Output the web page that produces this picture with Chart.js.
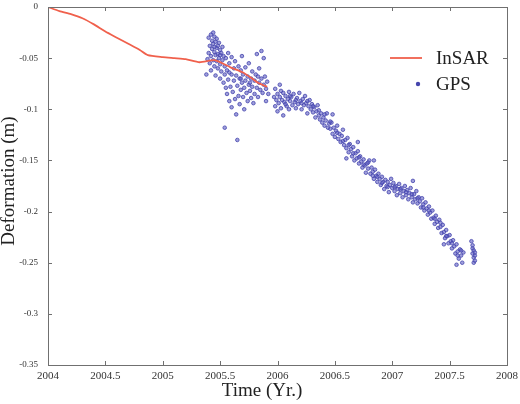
<!DOCTYPE html>
<html>
<head>
<meta charset="utf-8">
<script src="https://cdn.jsdelivr.net/npm/chart.js@4/dist/chart.umd.min.js"></script>
<style>
  html, body { margin: 0; padding: 0; background: #fff; }
  canvas { display: block; }
</style>
</head>
<body>
<canvas id="myChart" width="520" height="404"></canvas>
<script>
// InSAR time series (red line)
let insarT = [2004.0, 2004.1, 2004.2, 2004.3, 2004.4, 2004.5, 2004.6, 2004.7, 2004.8, 2004.87,
              2005.0, 2005.1, 2005.2, 2005.32, 2005.45, 2005.52, 2005.59, 2005.7, 2005.78, 2005.83, 2005.91];
let insarD = [0, -0.004, -0.007, -0.011, -0.017, -0.024, -0.030, -0.036, -0.042, -0.047,
              -0.049, -0.050, -0.051, -0.054, -0.052, -0.055, -0.059, -0.064, -0.070, -0.074, -0.078];

// GPS daily solutions (blue points)
let gpsT = [
  2005.38, 2005.39, 2005.40, 2005.40, 2005.41, 2005.41, 2005.42, 2005.42, 2005.42, 2005.43,
  2005.43, 2005.44, 2005.44, 2005.44, 2005.45, 2005.45, 2005.45, 2005.46, 2005.46, 2005.46,
  2005.47, 2005.47, 2005.47, 2005.48, 2005.48, 2005.48, 2005.49, 2005.49, 2005.50, 2005.50,
  2005.50, 2005.51, 2005.51, 2005.52, 2005.52, 2005.53, 2005.53, 2005.54, 2005.54, 2005.54,
  2005.55, 2005.55,
  2005.56, 2005.56, 2005.57, 2005.57, 2005.58, 2005.58, 2005.59, 2005.60, 2005.60, 2005.60,
  2005.61, 2005.62, 2005.62, 2005.63, 2005.63, 2005.64, 2005.64, 2005.65, 2005.65, 2005.66,
  2005.66, 2005.67, 2005.67, 2005.68, 2005.68, 2005.69, 2005.69, 2005.70, 2005.70, 2005.71,
  2005.71, 2005.72, 2005.72, 2005.73, 2005.74, 2005.74, 2005.75, 2005.75, 2005.76, 2005.77,
  2005.77, 2005.78, 2005.78, 2005.79, 2005.80, 2005.80, 2005.81, 2005.82, 2005.82, 2005.83,
  2005.84, 2005.84, 2005.85, 2005.86, 2005.86, 2005.87, 2005.88, 2005.88, 2005.89, 2005.90,
  2005.90, 2005.91, 2005.92,
  2005.97, 2005.98, 2005.98, 2005.99, 2006.00, 2006.00, 2006.01, 2006.02, 2006.02, 2006.03,
  2006.04, 2006.05, 2006.05, 2006.06, 2006.07, 2006.08, 2006.09, 2006.10, 2006.10, 2006.11,
  2006.12, 2006.13, 2006.14, 2006.15, 2006.16, 2006.17, 2006.18, 2006.19, 2006.20, 2006.21,
  2006.22, 2006.23, 2006.24, 2006.25, 2006.26, 2006.27, 2006.28, 2006.29, 2006.30, 2006.31,
  2006.32, 2006.33, 2006.34, 2006.35, 2006.36, 2006.37, 2006.38, 2006.39, 2006.40, 2006.41,
  2006.42, 2006.43, 2006.44, 2006.45,
  2006.46, 2006.47, 2006.48, 2006.48, 2006.49, 2006.50, 2006.51, 2006.52, 2006.53, 2006.54,
  2006.55, 2006.56, 2006.57, 2006.58, 2006.59, 2006.60, 2006.60, 2006.61, 2006.62, 2006.63,
  2006.64, 2006.65, 2006.66, 2006.67, 2006.68, 2006.69, 2006.70, 2006.70, 2006.71, 2006.72,
  2006.73, 2006.74, 2006.75, 2006.76, 2006.77, 2006.78, 2006.79, 2006.80, 2006.81, 2006.82,
  2006.83, 2006.84, 2006.84, 2006.85, 2006.86, 2006.87, 2006.88, 2006.89, 2006.90, 2006.91,
  2006.92, 2006.93, 2006.94, 2006.95, 2006.96, 2006.97, 2006.98, 2006.99, 2007.00,
  2007.01, 2007.02, 2007.03, 2007.04, 2007.05, 2007.06, 2007.07, 2007.08, 2007.09, 2007.10,
  2007.11, 2007.12, 2007.13, 2007.14, 2007.15, 2007.16, 2007.17, 2007.18, 2007.18, 2007.19,
  2007.20, 2007.21, 2007.22, 2007.23, 2007.24, 2007.25, 2007.26, 2007.27, 2007.28, 2007.29,
  2007.30, 2007.31, 2007.32, 2007.33, 2007.34, 2007.35, 2007.36, 2007.37, 2007.38, 2007.39,
  2007.40, 2007.41, 2007.42, 2007.43, 2007.44, 2007.45, 2007.45, 2007.46, 2007.47, 2007.48,
  2007.49, 2007.50, 2007.51, 2007.52, 2007.53, 2007.54, 2007.55, 2007.56, 2007.56, 2007.57,
  2007.58, 2007.59, 2007.60, 2007.61, 2007.62,
  2007.69, 2007.70, 2007.70, 2007.70, 2007.71, 2007.71, 2007.71, 2007.72, 2007.72, 2007.72,
  2006.03, 2006.07, 2006.11, 2006.16, 2006.21, 2006.26, 2006.31, 2006.36, 2006.41, 2006.46,
  2006.52, 2006.57, 2006.62, 2006.66, 2006.71, 2006.75, 2006.79, 2006.83, 2006.87, 2006.91,
  2006.96, 2007.02, 2007.07, 2007.12, 2007.17, 2007.22, 2007.27, 2007.32, 2007.37, 2007.42,
  2007.47, 2007.52, 2007.57, 2007.60, 2005.45, 2005.50, 2005.58, 2005.68, 2005.76, 2005.83
];
let gpsD = [
  -0.066, -0.051, -0.030, -0.045, -0.038, -0.055, -0.027, -0.048, -0.062, -0.033,
  -0.041, -0.025, -0.052, -0.036, -0.029, -0.044, -0.058, -0.034, -0.047, -0.067,
  -0.031, -0.040, -0.053, -0.038, -0.046, -0.060, -0.035, -0.050, -0.042, -0.056,
  -0.070, -0.045, -0.063, -0.039, -0.052, -0.048, -0.074, -0.058, -0.066, -0.118,
  -0.050, -0.079,
  -0.062, -0.085, -0.045, -0.071, -0.092, -0.055, -0.078, -0.066, -0.098, -0.049,
  -0.083, -0.060, -0.072, -0.090, -0.053, -0.067, -0.105, -0.077, -0.130, -0.058,
  -0.087, -0.070, -0.095, -0.062, -0.081, -0.048, -0.074, -0.088, -0.066, -0.079,
  -0.100, -0.059, -0.072, -0.084, -0.068, -0.092, -0.076, -0.055, -0.082, -0.070,
  -0.089, -0.063, -0.078, -0.094, -0.072, -0.085, -0.066, -0.079, -0.046, -0.088,
  -0.074, -0.060, -0.081, -0.070, -0.043, -0.084, -0.076, -0.050, -0.068, -0.080,
  -0.092, -0.073, -0.085,
  -0.088, -0.080, -0.097, -0.091, -0.085, -0.102, -0.094, -0.088, -0.076, -0.099,
  -0.091, -0.084, -0.106, -0.093, -0.087, -0.097, -0.090, -0.083, -0.100, -0.092,
  -0.088, -0.096, -0.085, -0.093, -0.099, -0.089, -0.095, -0.084, -0.092, -0.100,
  -0.090, -0.096, -0.087, -0.094, -0.104, -0.097, -0.091, -0.100, -0.095, -0.103,
  -0.098, -0.108, -0.102, -0.096, -0.106, -0.110, -0.104, -0.113, -0.108, -0.116,
  -0.111, -0.104, -0.118, -0.114,
  -0.119, -0.113, -0.124, -0.105, -0.118, -0.127, -0.121, -0.116, -0.129, -0.124,
  -0.132, -0.126, -0.120, -0.135, -0.130, -0.138, -0.148, -0.128, -0.142, -0.134,
  -0.139, -0.146, -0.137, -0.150, -0.143, -0.148, -0.141, -0.132, -0.153, -0.146,
  -0.151, -0.157, -0.149, -0.155, -0.162, -0.153, -0.158, -0.150, -0.163, -0.157,
  -0.161, -0.168, -0.150, -0.159, -0.165, -0.171, -0.163, -0.168, -0.174, -0.166,
  -0.171, -0.178, -0.169, -0.175, -0.171, -0.181, -0.174, -0.168, -0.177,
  -0.172, -0.180, -0.175, -0.184, -0.178, -0.173, -0.182, -0.177, -0.186, -0.180,
  -0.175, -0.184, -0.179, -0.188, -0.182, -0.177, -0.186, -0.191, -0.170, -0.183,
  -0.188, -0.180, -0.192, -0.186, -0.190, -0.196, -0.187, -0.193, -0.199, -0.191,
  -0.197, -0.203, -0.195, -0.201, -0.207, -0.199, -0.206, -0.212, -0.204, -0.210,
  -0.216, -0.208, -0.215, -0.221, -0.213, -0.220, -0.232, -0.226, -0.218, -0.224,
  -0.231, -0.223, -0.229, -0.236, -0.228, -0.234, -0.241, -0.232, -0.252, -0.239,
  -0.246, -0.237, -0.243, -0.250, -0.240,
  -0.229, -0.236, -0.241, -0.233, -0.238, -0.245, -0.250, -0.243, -0.248, -0.240,
  -0.082, -0.095, -0.087, -0.091, -0.094, -0.092, -0.097, -0.101, -0.105, -0.112,
  -0.123, -0.131, -0.135, -0.143, -0.147, -0.154, -0.152, -0.165, -0.166, -0.172,
  -0.176, -0.176, -0.178, -0.181, -0.183, -0.187, -0.196, -0.199, -0.207, -0.211,
  -0.224, -0.231, -0.243, -0.238, -0.039, -0.047, -0.064, -0.070, -0.074, -0.068
];

let xTicks = [2004, 2004.5, 2005, 2005.5, 2006, 2006.5, 2007, 2007.5, 2008];
let yTicks = [0, -0.05, -0.1, -0.15, -0.2, -0.25, -0.3, -0.35];

let seriesNames = ['InSAR', 'GPS'];
let xTitle = 'Time (Yr.)';
let yTitle = 'Deformation (m)';

let redColor = '#f0604c';
let blueColor = '#4545ad';
let axisColor = '#707070';

let insarPoints = [];
for (let i = 0; i < insarT.length; i++) {
    insarPoints.push({ x: insarT[i], y: insarD[i] });
}
let gpsPoints = [];
for (let i = 0; i < gpsT.length; i++) {
    gpsPoints.push({ x: gpsT[i], y: gpsD[i] });
}

function fmt(v) {
    return String(Number(v.toFixed(2)));
}

// box, inward ticks, axis titles and legend (matlab look)
let matlabFrame = {
    id: 'matlabFrame',
    afterDraw(chart) {
        let ctx = chart.ctx;
        let a = chart.chartArea;
        let xs = chart.scales.x;
        let ys = chart.scales.y;
        ctx.save();
        ctx.strokeStyle = axisColor;
        ctx.lineWidth = 1;
        ctx.beginPath();
        ctx.moveTo(a.left, a.top + 0.5);
        ctx.lineTo(a.right + 0.5, a.top + 0.5);
        ctx.lineTo(a.right + 0.5, a.bottom);
        ctx.stroke();

        let tl = 4;
        ctx.beginPath();
        xTicks.forEach(v => {
            let px = Math.round(xs.getPixelForValue(v)) + 0.5;
            ctx.moveTo(px, a.bottom);
            ctx.lineTo(px, a.bottom - tl);
            ctx.moveTo(px, a.top);
            ctx.lineTo(px, a.top + tl);
        });
        yTicks.forEach(v => {
            let py = Math.round(ys.getPixelForValue(v)) + 0.5;
            ctx.moveTo(a.left, py);
            ctx.lineTo(a.left + tl, py);
            ctx.moveTo(a.right, py);
            ctx.lineTo(a.right - tl, py);
        });
        ctx.stroke();

        // axis titles
        ctx.fillStyle = '#222';
        ctx.font = '19px "Liberation Serif"';
        ctx.textAlign = 'center';
        ctx.textBaseline = 'middle';
        ctx.fillText(xTitle, 262, 391);
        ctx.save();
        ctx.translate(9, 181);
        ctx.rotate(-Math.PI / 2);
        ctx.fillText(yTitle, 0, 0);
        ctx.restore();

        // legend
        let lx = a.right - 117;
        let ly = a.top + 51;
        ctx.strokeStyle = redColor;
        ctx.lineWidth = 1.8;
        ctx.beginPath();
        ctx.moveTo(lx, ly);
        ctx.lineTo(lx + 32, ly);
        ctx.stroke();
        ctx.fillStyle = blueColor;
        ctx.beginPath();
        ctx.arc(lx + 28, ly + 26, 2.2, 0, Math.PI * 2);
        ctx.fill();
        ctx.fillStyle = '#222';
        ctx.textAlign = 'left';
        ctx.fillText(seriesNames[0], lx + 46, ly + 1);
        ctx.fillText(seriesNames[1], lx + 46, ly + 27);
        ctx.restore();
    }
};

let ctx = document.getElementById('myChart').getContext('2d');
let myChart = new Chart(ctx, {
    type: 'scatter',
    data: {
        datasets: [{
            label: seriesNames[0],
            type: 'line',
            data: insarPoints,
            borderColor: redColor,
            borderWidth: 1.8,
            pointRadius: 0,
            fill: false,
            tension: 0.2,
            order: 0
        }, {
            label: seriesNames[1],
            data: gpsPoints,
            pointRadius: 1.8,
            borderWidth: 0.8,
            borderColor: blueColor,
            backgroundColor: 'rgba(95, 95, 195, 0.6)',
            order: 1
        }]
    },
    options: {
        responsive: false,
        animation: false,
        devicePixelRatio: 1,
        layout: { padding: { top: 7, right: 13, left: 0, bottom: 0 } },
        plugins: {
            legend: { display: false },
            tooltip: { enabled: false }
        },
        scales: {
            x: {
                type: 'linear',
                min: 2004,
                max: 2008,
                afterBuildTicks: s => { s.ticks = xTicks.map(v => ({ value: v })); },
                afterFit: s => {
                    s.height = 39;
                    s.paddingLeft = 0; s.paddingRight = 0;
                },
                grid: { display: false, drawTicks: false },
                border: { display: true, color: axisColor, width: 1 },
                ticks: {
                    padding: 5,
                    maxRotation: 0,
                    autoSkip: false,
                    color: '#333',
                    font: { family: 'Liberation Serif', size: 11 },
                    callback: v => fmt(v)
                }
            },
            y: {
                type: 'linear',
                min: -0.35,
                max: 0,
                afterBuildTicks: s => { s.ticks = yTicks.map(v => ({ value: v })); },
                afterFit: s => {
                    s.width = 48;
                    s.paddingTop = 0; s.paddingBottom = 0;
                },
                grid: { display: false, drawTicks: false },
                border: { display: true, color: axisColor, width: 1 },
                ticks: {
                    padding: 10,
                    autoSkip: false,
                    color: '#333',
                    font: { family: 'Liberation Serif', size: 9 },
                    callback: v => fmt(v)
                }
            }
        }
    },
    plugins: [matlabFrame]
});
</script>
</body>
</html>
